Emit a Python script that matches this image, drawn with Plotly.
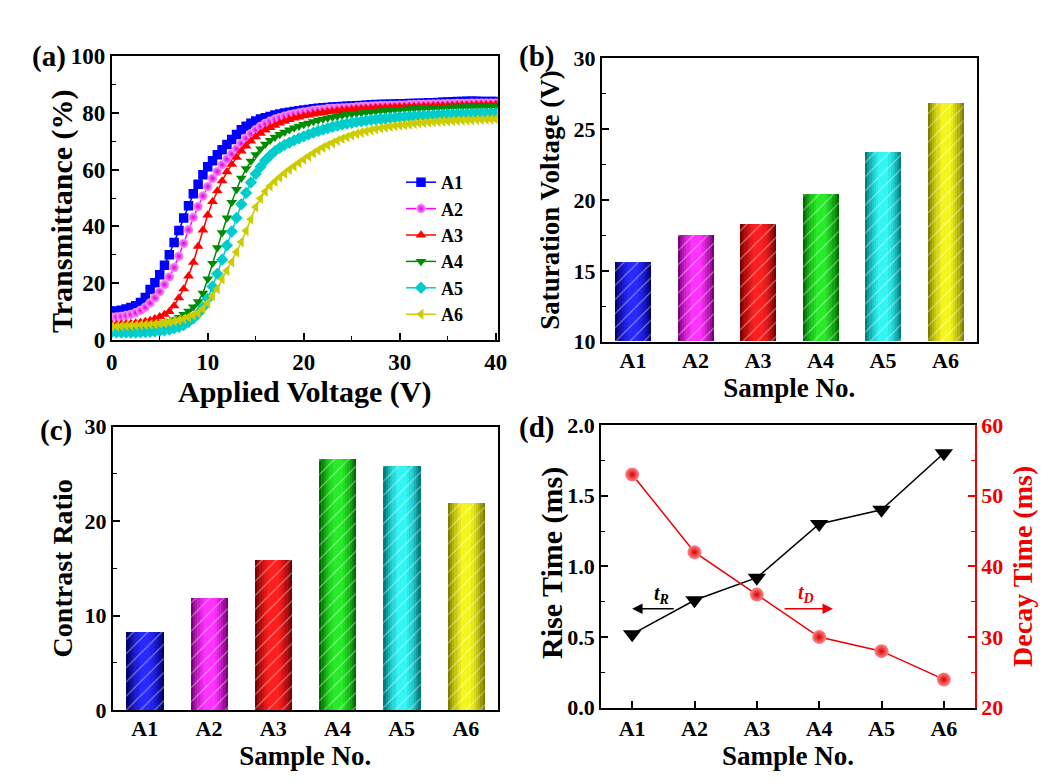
import plotly.graph_objects as go

# ---------------- data ----------------
voltage = [0, 0.5, 1, 1.5, 2, 2.5, 3, 3.5, 4, 4.5, 5, 5.5, 6, 6.5, 7, 7.5, 8, 8.5, 9, 9.5,
           10, 10.5, 11, 11.5, 12, 12.5, 13, 13.5, 14, 14.5, 15, 15.5, 16, 16.5, 17, 17.5, 18, 18.5, 19, 19.5,
           20, 20.5, 21, 21.5, 22, 22.5, 23, 23.5, 24, 24.5, 25, 25.5, 26, 26.5, 27, 27.5, 28, 28.5, 29, 29.5,
           30, 30.5, 31, 31.5, 32, 32.5, 33, 33.5, 34, 34.5, 35, 35.5, 36, 36.5, 37, 37.5, 38, 38.5, 39, 39.5, 40]

T_A1 = [10.0, 10.2, 10.5, 10.9, 11.4, 12.1, 13.2, 15.0, 17.8, 20.2, 23.0, 26.3, 30.0, 34.3, 38.6, 43.0, 47.3, 51.5, 54.8, 58.2,
        61.0, 63.1, 65.2, 67.0, 68.8, 70.6, 72.4, 74.0, 75.3, 76.3, 77.1, 77.8, 78.3, 78.7, 79.2, 79.6, 79.9, 80.2, 80.5, 80.7,
        81.0, 81.2, 81.4, 81.6, 81.8, 81.9, 82.0, 82.1, 82.2, 82.3, 82.4, 82.5, 82.6, 82.7, 82.8, 82.9, 82.9, 83.0, 83.0, 83.1,
        83.2, 83.2, 83.3, 83.3, 83.4, 83.4, 83.5, 83.5, 83.6, 83.7, 83.8, 83.9, 84.0, 84.0, 84.1, 84.1, 84.1, 84.0, 84.0, 84.0, 84.0]
T_A2 = [8.0, 8.1, 8.3, 8.6, 9.0, 9.6, 10.4, 11.5, 13.0, 14.8, 17.0, 19.5, 22.2, 25.5, 29.5, 34.0, 38.8, 43.2, 47.0, 50.7,
        54.0, 56.9, 59.3, 61.7, 63.7, 65.5, 67.3, 69.2, 71.0, 72.6, 74.0, 75.2, 76.2, 77.0, 77.7, 78.3, 78.8, 79.2, 79.6, 79.9,
        80.2, 80.5, 80.8, 81.0, 81.2, 81.4, 81.5, 81.6, 81.7, 81.8, 81.9, 82.0, 82.1, 82.2, 82.3, 82.4, 82.5, 82.5, 82.6, 82.6,
        82.7, 82.7, 82.8, 82.8, 82.9, 82.9, 83.0, 83.0, 83.1, 83.1, 83.2, 83.2, 83.3, 83.3, 83.3, 83.4, 83.4, 83.4, 83.4, 83.4, 83.4]
T_A3 = [5.5, 5.5, 5.6, 5.7, 5.8, 6.0, 6.2, 6.5, 6.9, 7.5, 8.2, 9.0, 10.0, 12.0, 14.8, 18.0, 22.5, 27.3, 33.0, 38.7,
        44.0, 48.7, 52.5, 56.0, 59.2, 61.8, 64.3, 66.5, 68.3, 70.0, 71.5, 72.8, 73.9, 74.8, 75.6, 76.4, 77.0, 77.6, 78.1, 78.5,
        78.9, 79.2, 79.5, 79.8, 80.1, 80.3, 80.5, 80.7, 80.9, 81.0, 81.2, 81.3, 81.4, 81.5, 81.6, 81.7, 81.8, 81.9, 81.9, 82.0,
        82.0, 82.1, 82.1, 82.2, 82.2, 82.3, 82.3, 82.4, 82.4, 82.5, 82.5, 82.6, 82.6, 82.7, 82.7, 82.7, 82.8, 82.8, 82.8, 82.8, 82.8]
T_A4 = [4.0, 4.0, 4.1, 4.2, 4.3, 4.4, 4.6, 4.8, 5.0, 5.3, 5.6, 6.0, 6.5, 7.2, 8.0, 9.0, 10.2, 11.7, 13.5, 16.5,
        21.5, 27.0, 32.5, 37.8, 43.0, 48.5, 53.0, 57.0, 60.3, 63.0, 65.3, 67.3, 69.0, 70.3, 71.4, 72.4, 73.2, 74.0, 74.7, 75.3,
        75.9, 76.4, 76.9, 77.4, 77.8, 78.2, 78.5, 78.8, 79.1, 79.4, 79.6, 79.8, 80.0, 80.2, 80.4, 80.5, 80.7, 80.8, 81.0, 81.1,
        81.2, 81.3, 81.4, 81.5, 81.6, 81.7, 81.7, 81.8, 81.9, 81.9, 82.0, 82.0, 82.1, 82.1, 82.2, 82.2, 82.2, 82.3, 82.3, 82.3, 82.3]
T_A5 = [2.8, 2.7, 2.6, 2.6, 2.6, 2.6, 2.7, 2.8, 2.9, 3.0, 3.2, 3.4, 3.7, 4.1, 4.6, 5.3, 6.3, 7.6, 9.3, 11.5,
        14.5, 18.8, 23.3, 28.3, 33.3, 38.2, 43.0, 47.8, 51.8, 55.5, 58.5, 61.0, 63.3, 65.0, 66.5, 67.7, 68.7, 69.5, 70.3, 71.0,
        71.7, 72.4, 73.0, 73.6, 74.1, 74.6, 75.1, 75.5, 75.9, 76.2, 76.5, 76.8, 77.0, 77.3, 77.5, 77.7, 77.9, 78.0, 78.2, 78.3,
        78.5, 78.6, 78.7, 78.8, 78.9, 79.0, 79.1, 79.2, 79.3, 79.4, 79.4, 79.5, 79.6, 79.6, 79.7, 79.7, 79.8, 79.8, 79.8, 79.9, 79.9]
T_A6 = [4.7, 4.8, 4.9, 5.0, 5.1, 5.2, 5.3, 5.4, 5.5, 5.6, 5.8, 6.0, 6.3, 6.6, 7.0, 7.5, 8.0, 8.7, 9.4, 11.0,
        13.0, 15.5, 18.0, 21.5, 24.5, 27.5, 31.0, 34.5, 38.5, 42.5, 46.8, 49.8, 52.3, 54.2, 55.8, 57.3, 58.7, 60.0, 61.2, 62.4,
        63.6, 64.7, 65.8, 66.8, 67.8, 68.6, 69.4, 70.2, 70.9, 71.5, 72.1, 72.6, 73.1, 73.5, 73.9, 74.3, 74.6, 74.9, 75.2, 75.4,
        75.6, 75.8, 76.0, 76.2, 76.4, 76.5, 76.7, 76.8, 76.9, 77.0, 77.1, 77.2, 77.3, 77.4, 77.5, 77.5, 77.6, 77.6, 77.7, 77.7, 77.8]

samples = ["A1", "A2", "A3", "A4", "A5", "A6"]
saturation_voltage = [15.6, 17.5, 18.3, 20.4, 23.4, 26.8]
contrast_ratio = [8.3, 11.9, 15.9, 26.6, 25.9, 21.9]
rise_time = [0.52, 0.76, 0.92, 1.30, 1.40, 1.80]
decay_time = [53, 42, 36, 30, 28, 24]

# ---------------- styles ----------------
FONT = "Liberation Serif"
RED = "#EE0000"
line_colors = ["#0000FF", "#FF00FF", "#FF0000", "#008C00", "#00CCCC", "#CCCC00"]
symbols = ["square", "circle", "triangle-up", "triangle-down", "diamond", "triangle-left"]
bright = [(40, 40, 255), (255, 50, 255), (255, 30, 30), (40, 235, 40), (50, 245, 245), (245, 245, 30)]
dark = [(0, 0, 110), (120, 0, 120), (120, 0, 0), (0, 105, 0), (0, 125, 125), (125, 125, 0)]

def mix(c1, c2, t):
    return "rgb(%d,%d,%d)" % tuple(round(a + (b - a) * t) for a, b in zip(c1, c2))

fig = go.Figure()

# ---- panel (a) ----
series = [T_A1, T_A2, T_A3, T_A4, T_A5, T_A6]
for i, (name, ys) in enumerate(zip(samples, series)):
    mk = dict(symbol=symbols[i], size=9.5, color=line_colors[i], line=dict(width=0))
    if symbols[i] == "circle":
        mk["color"] = "#FF9CFF"
        mk["gradient"] = dict(type="radial", color="#D800D8")
    fig.add_trace(go.Scatter(x=voltage, y=ys, name=name, mode="lines+markers",
                             line=dict(color=line_colors[i], width=1.5), marker=mk,
                             xaxis="x", yaxis="y"))

# ---- bars (b) and (c) ----
BAR_W = 0.58
layers = [(1.00, 0.0), (0.88, 0.25), (0.76, 0.45), (0.64, 0.62), (0.52, 0.76), (0.40, 0.88), (0.28, 1.0)]
for vals, xa, ya in [(saturation_voltage, "x2", "y2"), (contrast_ratio, "x3", "y3")]:
    base = 10 if ya == "y2" else 0
    for wf, t in layers:
        fig.add_trace(go.Bar(x=samples, y=[v - base for v in vals], base=base,
                             width=BAR_W * wf,
                             marker=dict(color=[mix(dark[k], bright[k], t) for k in range(6)], line=dict(width=0)),
                             showlegend=False, hoverinfo="skip", xaxis=xa, yaxis=ya))
    fig.add_trace(go.Bar(x=samples, y=[v - base for v in vals], base=base, width=BAR_W,
                         marker=dict(color="rgba(0,0,0,0)", line=dict(width=0),
                                     pattern=dict(shape="/", fgcolor="rgba(255,255,255,0.5)",
                                                  size=10, solidity=0.1)),
                         showlegend=False, hoverinfo="skip", xaxis=xa, yaxis=ya))

# ---- panel (d) ----
fig.add_trace(go.Scatter(x=samples, y=rise_time, mode="lines+markers", showlegend=False,
                         line=dict(color="black", width=1.5),
                         marker=dict(symbol="triangle-down", size=16, color="black"),
                         xaxis="x4", yaxis="y4"))
fig.add_trace(go.Scatter(x=samples, y=decay_time, mode="lines+markers", showlegend=False,
                         line=dict(color=RED, width=1.5),
                         marker=dict(symbol="circle", size=14, color="#FF8A8A",
                                     gradient=dict(type="radial", color="#D80000"), line=dict(width=0)),
                         xaxis="x4", yaxis="y5"))

W, H = 1057, 783
def px_x(a, b):
    return [a / W, b / W]
def px_y(top, bottom):
    return [(H - bottom) / H, (H - top) / H]

def tf(size, color="black"):
    return dict(family=FONT, size=size, color=color, weight="bold")

MINOR = dict(ticks="inside", ticklen=4, tickcolor="black", tickwidth=1.2)

def xax(domain, anchor, **kw):
    d = dict(domain=domain, anchor=anchor, showline=True, linecolor="black", linewidth=1.8,
             mirror=True, ticks="", tickfont=tf(22), showgrid=False, zeroline=False, automargin=False)
    d.update(kw)
    return d

def yax(domain, anchor, **kw):
    d = dict(domain=domain, anchor=anchor, showline=True, linecolor="black", linewidth=1.8,
             mirror=True, ticks="inside", ticklen=7, tickwidth=1.5, tickcolor="black",
             tickfont=tf(22), showgrid=False, zeroline=False, automargin=False)
    d.update(kw)
    return d

fig.update_layout(
    template="none",
    width=W, height=H, margin=dict(l=0, r=0, t=0, b=0, pad=0), autosize=False,
    paper_bgcolor="white", plot_bgcolor="white",
    font=dict(family=FONT, color="black", weight="bold"),
    barmode="overlay", bargap=0,
    xaxis=xax(px_x(111.7, 497.7), "y", range=[0, 40.2], dtick=10, tick0=0, tickfont=tf(23),
              ticks="inside", ticklen=7, tickwidth=1.5, tickcolor="black",
              minor=dict(MINOR, dtick=5),
              title=dict(text="Applied Voltage (V)", font=tf(30), standoff=0)),
    yaxis=yax(px_y(56, 340), "x", range=[0, 100], dtick=20, tickfont=tf(23),
              minor=dict(MINOR, dtick=10)),
    xaxis2=xax(px_x(601.7, 976.7), "y2", type="category", range=[-0.5, 5.5], ticklabelstandoff=-2,
               title=dict(text="Sample No.", font=tf(27), standoff=0)),
    yaxis2=yax(px_y(58.3, 341.7), "x2", range=[10, 30], dtick=5,
               minor=dict(MINOR, dtick=2.5),
               title=dict(text="Saturation Voltage (V)", font=tf(27), standoff=6)),
    xaxis3=xax(px_x(112.7, 498), "y3", type="category", range=[-0.5, 5.5], ticklabelstandoff=-2,
               title=dict(text="Sample No.", font=tf(27), standoff=0)),
    yaxis3=yax(px_y(426.7, 710), "x3", range=[0, 30], dtick=10,
               minor=dict(MINOR, dtick=5),
               title=dict(text="Contrast Ratio", font=tf(28), standoff=4)),
    xaxis4=xax(px_x(601, 975), "y4", type="category", range=[-0.5, 5.5],
               ticks="inside", ticklen=7, tickwidth=1.5, tickcolor="black",
               title=dict(text="Sample No.", font=tf(27), standoff=1)),
    yaxis4=yax(px_y(425, 707.7), "x4", range=[0, 2.0], dtick=0.5, tickformat=".1f", mirror=False,
               minor=dict(MINOR, dtick=0.25)),
    yaxis5=dict(overlaying="y4", side="right", anchor="x4", range=[20, 60], dtick=10,
                showline=True, linecolor=RED, linewidth=1.8, ticks="inside", ticklen=7,
                tickwidth=1.5, tickcolor=RED, showgrid=False, zeroline=False, automargin=False,
                tickfont=tf(22, RED),
                minor=dict(ticks="inside", ticklen=4, dtick=5, tickcolor=RED, tickwidth=1.2),
                title=dict(text="Decay Time (ms)", font=tf(28, RED), standoff=10)),
    legend=dict(x=401 / W, y=(H - 164) / H, xanchor="left", yanchor="top",
                bgcolor="rgba(0,0,0,0)", borderwidth=0, tracegroupgap=0,
                font=tf(18)),
)

# y titles placed freely (they sit off-centre in the reference)
fig.add_annotation(text="Transmittance (%)", textangle=-90, xref="paper", yref="paper",
                   x=62 / W, y=(H - 211) / H, xanchor="center", yanchor="middle",
                   showarrow=False, font=tf(30))
fig.add_annotation(text="Rise Time (ms)", textangle=-90, xref="paper", yref="paper",
                   x=552 / W, y=(H - 563) / H, xanchor="center", yanchor="middle",
                   showarrow=False, font=tf(30))

# panel labels
for txt, x, y in [("(a)", 30, 57), ("(b)", 517, 57), ("(c)", 38, 430), ("(d)", 517, 427)]:
    fig.add_annotation(text=txt, xref="paper", yref="paper", x=x / W, y=(H - y) / H,
                       xanchor="left", yanchor="middle", showarrow=False, font=tf(29))

# arrows in panel (d)
fig.add_annotation(x=0.0, y=0.70, ax=0.69, ay=0.70, xref="x4", yref="y4", axref="x4", ayref="y4",
                   text="", showarrow=True, arrowhead=2, arrowsize=1.3, arrowwidth=1.6, arrowcolor="black")
fig.add_annotation(x=0.47, y=0.80, xref="x4", yref="y4", showarrow=False,
                   text="<i>t<sub>R</sub></i>", font=tf(20))
fig.add_annotation(x=3.22, y=0.70, ax=2.42, ay=0.70, xref="x4", yref="y4", axref="x4", ayref="y4",
                   text="", showarrow=True, arrowhead=2, arrowsize=1.3, arrowwidth=1.6, arrowcolor=RED)
fig.add_annotation(x=2.79, y=0.81, xref="x4", yref="y4", showarrow=False,
                   text="<i>t<sub>D</sub></i>", font=tf(20, RED))

fig.write_html("out.html", config={"displayModeBar": False},
               post_script="document.body.style.margin='0';")
